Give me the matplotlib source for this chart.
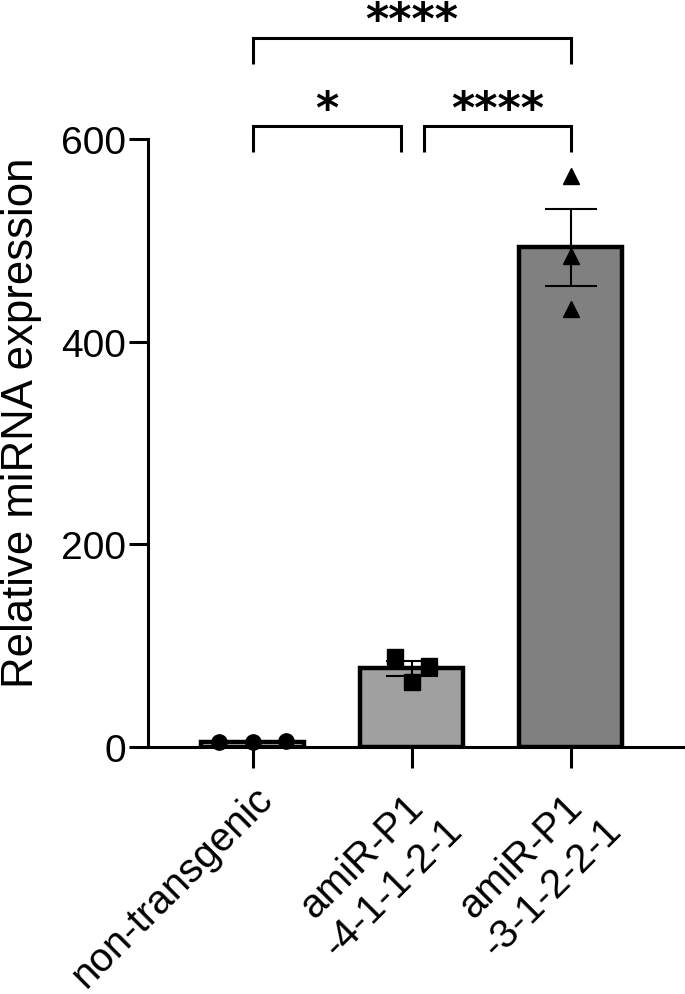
import numpy as np
import matplotlib
matplotlib.use("Agg")
import matplotlib.pyplot as plt

plt.rcParams['font.family'] = ['Liberation Sans', 'DejaVu Sans']

categories = ["non-transgenic", "amiR-P1\n-4-1-1-2-1", "amiR-P1\n-3-1-2-2-1"]
nontransgenic = [5.0, 4.5, 5.5]
line_4_1_1_2_1 = [89.0, 80.0, 64.0]
line_3_1_2_2_1 = [563.0, 485.0, 432.0]
groups = [nontransgenic, line_4_1_1_2_1, line_3_1_2_2_1]
jitter = [[-0.21, 0.0, 0.21], [-0.107, 0.107, 0.0], [0.0, 0.0, 0.0]]
markers = ["o", "s", "^"]
fills = ["white", "#a0a0a0", "#808080"]
yticks = [0, 200, 400, 600]
comparisons = [(0, 1, 613, 4, "*"), (1, 2, 613, 4, "****"), (0, 2, 700, 5, "****")]

fig = plt.figure(figsize=(6.85, 9.95), dpi=100)
ax = fig.add_axes([148/685, 1-748/995, 1-148/685, (748-140)/995])

x = np.arange(len(categories))
means = [np.mean(g) for g in groups]
sems = [np.std(g, ddof=1)/np.sqrt(len(g)) for g in groups]

ax.bar(x, means, width=0.65, color=fills, edgecolor="black", linewidth=3.2, zorder=2)
for i, g in enumerate(groups):
    ax.errorbar(x[i], means[i], yerr=sems[i], color="black", lw=1.5,
                capsize=19, capthick=1.5, zorder=4)
    ax.plot(x[i] + np.array(jitter[i]), g, linestyle="none", marker=markers[i],
            color="black", markersize=11, zorder=3, clip_on=False)

ax.set_xlim(-0.66, 2.72)
ax.set_ylim(0, 600)
ax.set_yticks(yticks)
ax.set_xticks(x)
ax.set_xticklabels(categories, rotation=45, ha="right", rotation_mode="anchor",
                   multialignment="center", fontsize=29)
ax.tick_params(axis="y", labelsize=28, width=2.2, length=14, pad=2)
ax.tick_params(axis="x", width=2.2, length=15, pad=8)
for s in ["top", "right"]:
    ax.spines[s].set_visible(False)
for s in ["left", "bottom"]:
    ax.spines[s].set_linewidth(2.2)
ax.set_ylabel("Relative miRNA expression", fontsize=31.5)
ax.yaxis.set_label_coords(-0.198, 0.5345)

# significance brackets
for (a, b, h, off, txt) in comparisons:
    xa = a + (0.08 if (a == 1) else 0.0)
    xb = b - (0.07 if (b == 1) else 0.0)
    drop = 26
    ax.plot([xa, xa, xb, xb], [h - drop, h, h, h - drop], color="black", lw=2.2,
            clip_on=False, solid_capstyle="butt", solid_joinstyle="miter")
    ax.text((xa + xb) / 2, h + off, txt, ha="center", va="baseline", fontsize=32,
            fontweight="bold", family="DejaVu Sans", clip_on=False)

fig.savefig("out.png", dpi=100)
